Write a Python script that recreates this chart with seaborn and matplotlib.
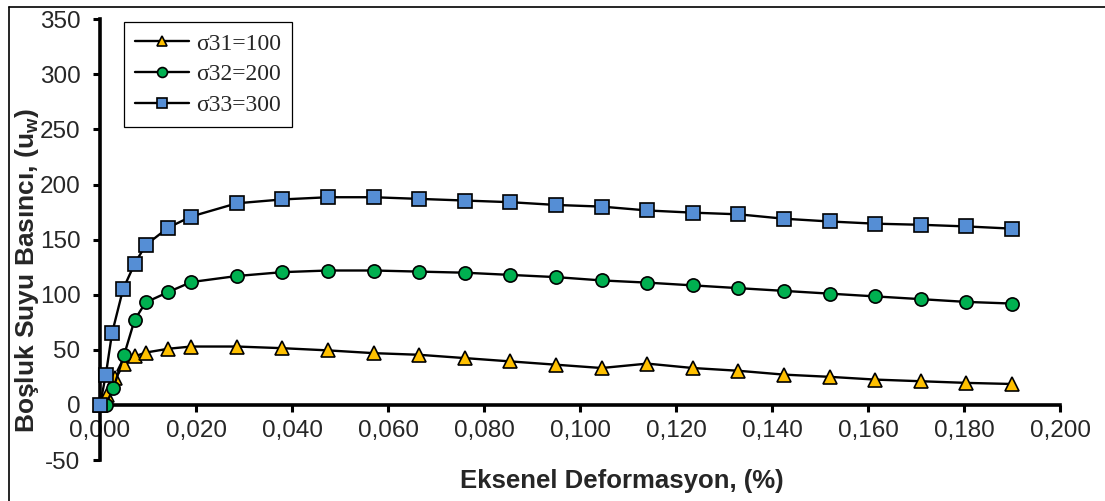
import matplotlib
matplotlib.use("Agg")
import matplotlib.pyplot as plt
from matplotlib.lines import Line2D
from matplotlib.ticker import FuncFormatter, MultipleLocator
import seaborn as sns

# axial strain (%) and pore water pressure readings per confining stress
s31_strain = [0.0, 0.0015, 0.0032, 0.0050, 0.0072, 0.0095, 0.01425, 0.019, 0.0285, 0.038,
              0.0475, 0.057, 0.0665, 0.076, 0.0855, 0.095, 0.1045, 0.114, 0.1235, 0.133,
              0.1425, 0.152, 0.1615, 0.171, 0.1805, 0.190]
s31_uw = [0, 9, 24, 37, 44, 47.5, 51, 53, 53, 51.5,
          49.5, 47, 45.5, 42.5, 39.5, 36.5, 33.5, 37.5, 33.5, 31,
          27.5, 25.5, 23, 21.5, 20, 19]

s32_strain = [0.0012, 0.0028, 0.0050, 0.0072, 0.0095, 0.01425, 0.019, 0.0285, 0.038,
              0.0475, 0.057, 0.0665, 0.076, 0.0855, 0.095, 0.1045, 0.114, 0.1235, 0.133,
              0.1425, 0.152, 0.1615, 0.171, 0.1805, 0.190]
s32_uw = [0, 15.5, 45, 77, 93, 102.5, 111.5, 117, 120.5,
          122, 122, 121, 120, 118, 116, 113, 111, 108.5, 106,
          103.5, 101, 98.5, 96, 93.5, 92]

s33_strain = [0.0, 0.0012, 0.0025, 0.0048, 0.0072, 0.0095, 0.01425, 0.019, 0.0285, 0.038,
              0.0475, 0.057, 0.0665, 0.076, 0.0855, 0.095, 0.1045, 0.114, 0.1235, 0.133,
              0.1425, 0.152, 0.1615, 0.171, 0.1805, 0.190]
s33_uw = [0, 27, 65, 105, 128, 145, 161, 171, 183, 186.5,
          188.5, 188.5, 187, 185.5, 184, 181.5, 180, 176.5, 174.5, 173,
          169, 166.5, 164.5, 163.5, 162, 160]

labels = ["σ31=100", "σ32=200", "σ33=300"]

sns.set_style("white")
plt.rcParams['font.family'] = ['Liberation Sans', 'DejaVu Sans']
plt.rcParams['mathtext.fontset'] = 'custom'
plt.rcParams['mathtext.bf'] = 'Liberation Sans:bold'
plt.rcParams['mathtext.rm'] = 'Liberation Sans:bold'

fig = plt.figure(figsize=(11.05, 5.01), dpi=100)
ax = fig.add_axes([0.0905, 0.0818, 0.8688, 0.8797])

series = [
    (s31_strain, s31_uw, '^', '#FFC000', labels[0]),
    (s32_strain, s32_uw, 'o', '#00B050', labels[1]),
    (s33_strain, s33_uw, 's', '#558ED5', labels[2]),
]
for i, (xs, ys, mk, fc, lab) in enumerate(series):
    sns.lineplot(x=xs, y=ys, ax=ax, sort=False, errorbar=None,
                 color='black', linewidth=1.7, marker=mk, markersize=9.5,
                 markerfacecolor=fc, markeredgecolor='black', markeredgewidth=1.2,
                 label=lab, clip_on=False, zorder=3 + i)

ax.set_xlim(0, 0.2)
ax.set_ylim(-50, 350)
ax.xaxis.set_major_locator(MultipleLocator(0.02))
ax.yaxis.set_major_locator(MultipleLocator(50))
ax.xaxis.set_major_formatter(FuncFormatter(lambda v, p: f"{v:.3f}".replace('.', ',')))
ax.yaxis.set_major_formatter(FuncFormatter(lambda v, p: f"{v:.0f}"))

for side in ['top', 'right']:
    ax.spines[side].set_visible(False)
ax.spines['bottom'].set_position(('data', 0))
for side in ['left', 'bottom']:
    ax.spines[side].set_linewidth(2.6)
    ax.spines[side].set_color('black')
    ax.spines[side].set_zorder(2)

ax.tick_params(axis='both', direction='out', length=5, width=2.2, color='black',
               labelsize=17.5, left=True, bottom=True)
ax.tick_params(axis='x', pad=6)
ax.tick_params(axis='y', pad=9)

ax.set_xlabel("Eksenel Deformasyon, (%)", fontsize=18.5, fontweight='bold')
ax.xaxis.set_label_coords(0.544, -0.02)
ax.set_ylabel(r"Boşluk Suyu Basıncı, (u$_\mathbf{w}$)", fontsize=19, fontweight='bold')
ax.yaxis.set_label_coords(-0.061, 0.43)

leg = ax.legend(loc='upper left', bbox_to_anchor=(0.025, 0.993), borderaxespad=0,
                prop={'family': 'Liberation Serif', 'size': 17},
                frameon=True, fancybox=False, edgecolor='black', framealpha=1,
                handlelength=2.3, handletextpad=0.3, labelspacing=0.4,
                borderpad=0.45, markerscale=0.75)
leg.get_frame().set_linewidth(0.9)

# thin page border seen on the left and top
fig.add_artist(Line2D([9 / 1105, 9 / 1105], [0, 494 / 501], transform=fig.transFigure,
                      color='black', linewidth=1.2))
fig.add_artist(Line2D([9 / 1105, 1], [494 / 501, 494 / 501], transform=fig.transFigure,
                      color='black', linewidth=1.2))

fig.savefig("out.png", dpi=100)
